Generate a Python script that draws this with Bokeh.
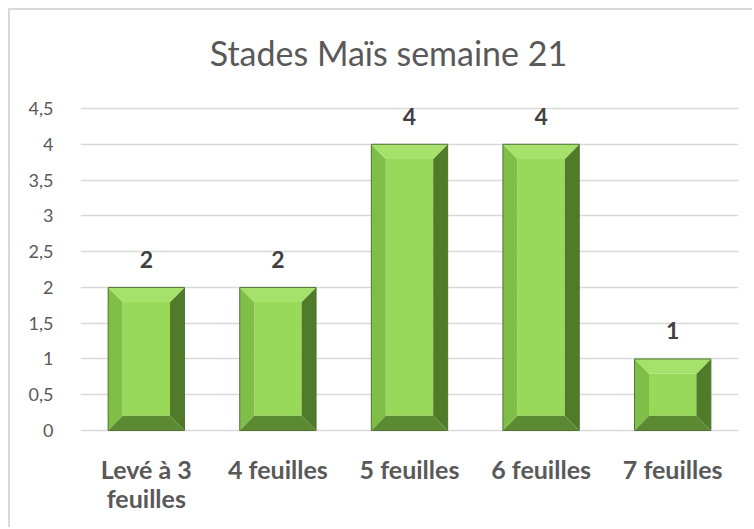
from bokeh.plotting import figure
from bokeh.models import FactorRange, Range1d, ColumnDataSource, Label, LabelSet, CustomJSTickFormatter, FixedTicker
from bokeh.core.properties import value
from bokeh.embed import file_html
from bokeh.resources import INLINE

categories = ["Levé à 3 feuilles", "4 feuilles", "5 feuilles", "6 feuilles", "7 feuilles"]
label_line1 = ["Levé à 3", "4 feuilles", "5 feuilles", "6 feuilles", "7 feuilles"]
label_line2 = ["feuilles", "", "", "", ""]
values = [2, 2, 4, 4, 1]
title_text = "Stades Maïs semaine 21"
y_ticks = [0, 0.5, 1, 1.5, 2, 2.5, 3, 3.5, 4, 4.5]

FONT = "Lato"
TXT = "#595959"

p = figure(x_range=FactorRange(*categories, range_padding=0, factor_padding=0),
           y_range=Range1d(-1.383, 5.869),
           width=744, height=519, output_backend="svg", toolbar_location=None,
           min_border_left=70, min_border_right=16, min_border_top=0, min_border_bottom=0)
p.styles = {"border-top": "2px solid #D9D9D9", "border-left": "2px solid #D9D9D9",
            "margin-left": "8px", "margin-top": "8px"}
p.outline_line_color = None
p.background_fill_color = "white"
p.border_fill_color = "white"

# grid and axes
p.xgrid.grid_line_color = None
p.xaxis.visible = False
p.ygrid.grid_line_color = "#D9D9D9"
p.ygrid.grid_line_width = 1.3
p.yaxis.ticker = FixedTicker(ticks=y_ticks)
p.yaxis.formatter = CustomJSTickFormatter(code="return tick.toString().replace('.', ',');")
p.yaxis.axis_line_color = None
p.yaxis.major_tick_line_color = None
p.yaxis.minor_tick_line_color = None
p.yaxis.major_label_text_font = FONT
p.yaxis.major_label_text_font_size = "18px"
p.yaxis.major_label_text_color = TXT
p.yaxis.major_label_standoff = 21

# bevelled bars built from values
hw = 0.29
dx = 0.11
dy = 0.205
centers = [i + 0.5 for i in range(len(categories))]
faces = dict(xs=[], ys=[])
tops = dict(xs=[], ys=[])
bots = dict(xs=[], ys=[])
lefts = dict(xs=[], ys=[])
rights = dict(xs=[], ys=[])
for c, v in zip(centers, values):
    x0, x1 = c - hw, c + hw
    faces["xs"].append([x0 + dx, x1 - dx, x1 - dx, x0 + dx])
    faces["ys"].append([dy, dy, v - dy, v - dy])
    tops["xs"].append([x0, x1, x1 - dx, x0 + dx])
    tops["ys"].append([v, v, v - dy, v - dy])
    bots["xs"].append([x0, x1, x1 - dx, x0 + dx])
    bots["ys"].append([0, 0, dy, dy])
    lefts["xs"].append([x0, x0, x0 + dx, x0 + dx])
    lefts["ys"].append([0, v, v - dy, dy])
    rights["xs"].append([x1, x1, x1 - dx, x1 - dx])
    rights["ys"].append([0, v, v - dy, dy])

p.patches("xs", "ys", source=ColumnDataSource(faces), fill_color="#98D95A", line_color=None)
p.patches("xs", "ys", source=ColumnDataSource(lefts), fill_color="#80BF47", line_color=None)
p.patches("xs", "ys", source=ColumnDataSource(rights), fill_color="#507C2A", line_color=None)
p.patches("xs", "ys", source=ColumnDataSource(bots), fill_color="#5C8A32", line_color=None)
p.patches("xs", "ys", source=ColumnDataSource(tops), fill_color="#A6E16B", line_color=None)
p.vbar(x=centers, top=values, width=2 * hw, fill_color=None, line_color="#4E7330", line_width=1)

src = ColumnDataSource(dict(x=centers, y=values, t=[str(v) for v in values]))
p.add_layout(LabelSet(x="x", y="y", text="t", source=src, y_offset=28,
                      text_align="center", text_baseline="middle",
                      text_font=value(FONT), text_font_size="23px", text_font_style="bold",
                      text_color="#404040"))

# category labels under the bars
csrc = ColumnDataSource(dict(x=centers, y=[0] * len(centers), t1=label_line1, t2=label_line2))
p.add_layout(LabelSet(x="x", y="y", text="t1", source=csrc, y_offset=-38,
                      text_align="center", text_baseline="middle",
                      text_font=value(FONT), text_font_size="25px", text_font_style="bold",
                      text_color=TXT))
p.add_layout(LabelSet(x="x", y="y", text="t2", source=csrc, y_offset=-67,
                      text_align="center", text_baseline="middle",
                      text_font=value(FONT), text_font_size="25px", text_font_style="bold",
                      text_color=TXT))

p.add_layout(Label(x=2.34, y=5.285, text=title_text, text_align="center", text_baseline="middle",
                   text_font=FONT, text_font_size="34px", text_color=TXT))

open("out.html", "w").write(file_html(p, INLINE))
